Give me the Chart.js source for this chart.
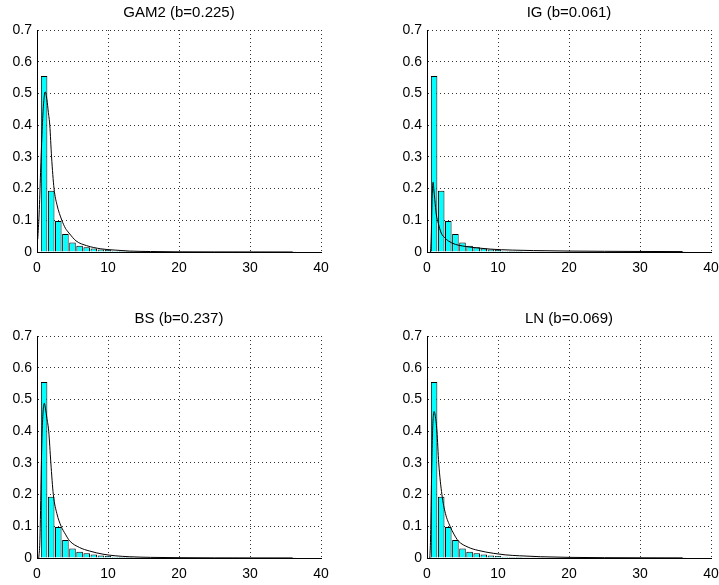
<!DOCTYPE html>
<html lang="en">
<head>
  <meta charset="UTF-8" />
  <title>Histogram fits</title>
  <script src="https://cdn.jsdelivr.net/npm/chart.js"></script>
  <style>
    body {
      margin: 0;
      padding: 0;
      background: #ffffff;
      overflow: hidden;
      width: 719px;
      height: 585px;
      position: relative;
    }
    canvas {
      position: absolute;
    }
    #c1 { left: 0; top: 0; }
    #c2 { left: 390px; top: 0; }
    #c3 { left: 0; top: 306px; }
    #c4 { left: 390px; top: 306px; }
  </style>
</head>
<body>
  <canvas id="c1" width="360" height="292"></canvas>
  <canvas id="c2" width="360" height="292"></canvas>
  <canvas id="c3" width="360" height="292"></canvas>
  <canvas id="c4" width="360" height="292"></canvas>

  <script>
    // histogram (same for all four panels)
    const binCenters = [1, 2, 3, 4, 5, 6, 7, 8, 9, 10, 11, 12, 13, 14, 15, 16, 17, 18,
      19, 20, 21, 22, 23, 24, 25, 26, 27, 28, 29, 30, 31, 32, 33, 34, 35, 36];
    const histValues = [0.555, 0.193, 0.098, 0.057, 0.030, 0.020, 0.015, 0.011, 0.008, 0.006,
      0.004, 0.003, 0.003, 0.002, 0.002, 0.002, 0.0015, 0.0015, 0.0015, 0.001, 0.001, 0.001,
      0.001, 0.001, 0.001, 0.001, 0.0008, 0.0008, 0.0008, 0.0008, 0.0008, 0.0008, 0.0008,
      0.0008, 0.0008, 0.0008];

    const titles = ["GAM2 (b=0.225)", "IG (b=0.061)", "BS (b=0.237)", "LN (b=0.069)"];

    // fitted densities
    const gamX = [0.1, 0.3, 0.5, 0.7, 0.9, 1.15, 1.4, 1.6, 1.8, 2.05, 2.4, 2.8, 3.5, 4, 4.5, 5.5, 7, 9, 11, 13, 16, 20, 25, 30, 36];
    const gamY = [0.04, 0.12, 0.25, 0.37, 0.46, 0.505, 0.48, 0.44, 0.4, 0.3, 0.2, 0.15, 0.1, 0.075, 0.06, 0.035, 0.02, 0.01, 0.006, 0.003, 0.0015, 0.0005, 0.0002, 0.0001, 0];

    const igX = [0.5, 0.6, 0.7, 0.8, 0.87, 0.95, 1.1, 1.3, 1.6, 2.0, 2.5, 3, 4, 5, 7, 9, 12, 15, 20, 25, 30, 36];
    const igY = [0, 0.05, 0.15, 0.21, 0.22, 0.2, 0.165, 0.12, 0.09, 0.06, 0.045, 0.035, 0.024, 0.019, 0.013, 0.009, 0.006, 0.0045, 0.003, 0.0022, 0.0017, 0.0013];

    const bsX = [0.25, 0.4, 0.5, 0.6, 0.7, 0.85, 1.03, 1.2, 1.4, 1.65, 1.95, 2.3, 2.8, 3.4, 4, 4.6, 6, 7.4, 9.3, 11, 13, 16, 20, 25, 30, 36];
    const bsY = [0, 0.05, 0.15, 0.28, 0.38, 0.46, 0.488, 0.47, 0.44, 0.4, 0.3, 0.2, 0.14, 0.1, 0.075, 0.054, 0.033, 0.022, 0.012, 0.007, 0.004, 0.002, 0.001, 0.0004, 0.0002, 0.0001];

    const lnX = [0.4, 0.5, 0.6, 0.7, 0.8, 0.9, 1.0, 1.15, 1.4, 1.65, 2.1, 2.6, 3.25, 3.8, 4.4, 5.8, 7.2, 9.4, 11, 13, 16, 20, 25, 30, 36];
    const lnY = [0, 0.06, 0.2, 0.32, 0.41, 0.45, 0.462, 0.45, 0.4, 0.3, 0.2, 0.14, 0.1, 0.075, 0.054, 0.034, 0.024, 0.0146, 0.01, 0.007, 0.004, 0.002, 0.001, 0.0006, 0.0003];

    const xMin = 0, xMax = 40, xStep = 10;
    const yMin = 0, yMax = 0.7, yStep = 0.1;

    const FONT = "'Liberation Sans', Arial, Helvetica, sans-serif";
    Chart.defaults.font.family = FONT;
    Chart.defaults.color = "#000";

    function makeChart(id, title, cx, cy) {
      const bars = binCenters.map((x, i) => ({ x: x, y: histValues[i] }));
      const curve = cx.map((x, i) => ({ x: x, y: cy[i] }));

      new Chart(document.getElementById(id), {
        type: "bar",
        data: {
          datasets: [
            {
              type: "line",
              data: curve,
              borderColor: "#000",
              borderWidth: 1,
              pointRadius: 0,
              fill: false,
              cubicInterpolationMode: "monotone",
              order: 0
            },
            {
              type: "bar",
              data: bars,
              backgroundColor: "#00ffff",
              borderColor: "#000",
              borderWidth: 1,
              barPercentage: 0.92,
              categoryPercentage: 1,
              order: 1
            }
          ]
        },
        options: {
          responsive: false,
          animation: false,
          events: [],
          layout: { padding: { left: 0, right: 39, top: 0, bottom: 0 } },
          plugins: {
            legend: { display: false },
            tooltip: { enabled: false },
            title: {
              display: true,
              text: title,
              fullSize: false,
              font: { size: 15, weight: "normal" },
              padding: { top: 4, bottom: 8 }
            }
          },
          scales: {
            x: {
              type: "linear",
              min: xMin,
              max: xMax,
              offset: false,
              grid: { offset: false, color: "rgba(0,0,0,0.8)", drawTicks: false },
              border: { display: true, color: "#000", width: 1, dash: [1, 3] },
              ticks: { stepSize: xStep, padding: 8, font: { size: 14 } },
              afterFit: s => { s.height = 40; }
            },
            y: {
              min: yMin,
              max: yMax,
              grid: { color: "rgba(0,0,0,0.8)", drawTicks: false },
              border: { display: true, color: "#000", width: 1, dash: [1, 3] },
              ticks: { stepSize: yStep, padding: 5, font: { size: 14 } },
              afterFit: s => { s.width = 37; }
            }
          }
        }
      });
    }

    makeChart("c1", titles[0], gamX, gamY);
    makeChart("c2", titles[1], igX, igY);
    makeChart("c3", titles[2], bsX, bsY);
    makeChart("c4", titles[3], lnX, lnY);
  </script>
</body>
</html>
